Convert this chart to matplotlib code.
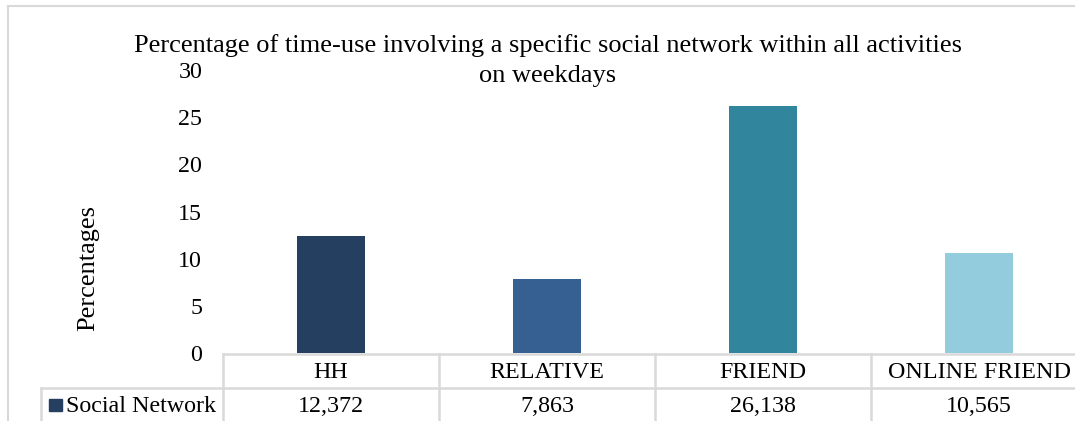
import matplotlib.pyplot as plt
from matplotlib.patches import Rectangle
from matplotlib.transforms import blended_transform_factory

categories = ['HH', 'RELATIVE', 'FRIEND', 'ONLINE FRIEND']
shares = [12.372, 7.863, 26.138, 10.565]
series_name = 'Social Network'
bar_colors = ['#243F60', '#366092', '#31859C', '#93CDDD']
yticks = [0, 5, 10, 15, 20, 25, 30]

W, H = 1075, 421
plt.rcParams['font.family'] = 'Liberation Serif'
fs = 17.3
fs_title = 19
grid_c = '#D9D9D9'

fig = plt.figure(figsize=(W / 100, H / 100), dpi=100)

# outer chart frame (top and left edges only are inside the canvas)
fig.add_artist(plt.Line2D([8 / W, 1.1], [1 - 6 / H, 1 - 6 / H], color=grid_c, lw=1.5))
fig.add_artist(plt.Line2D([8 / W, 8 / W], [1 - 6 / H, -0.1], color=grid_c, lw=1.5))

ax = fig.add_axes([223 / W, (H - 353) / H, 864 / W, 283 / H])
x = range(len(categories))
ax.bar(x, shares, width=0.315, color=bar_colors)
ax.set_xlim(-0.5, 3.5)
ax.set_ylim(0, 30)
ax.set_yticks(yticks)
ax.set_yticklabels([str(t) for t in yticks], fontsize=fs)
ax.tick_params(axis='y', length=0, pad=15)
ax.set_xticks([])
for s in ax.spines.values():
    s.set_visible(False)

fig.text(88 / W, 1 - 268 / H, 'Percentages', rotation=90, ha='center', va='center', fontsize=fs_title)
fig.text(548 / W, 1 - 46 / H, 'Percentage of time-use involving a specific social network within all activities',
         ha='center', va='center', fontsize=fs_title)
fig.text(548 / W, 1 - 76 / H, 'on weekdays', ha='center', va='center', fontsize=fs_title)

# data table under the bars
tr = blended_transform_factory(ax.transData, fig.transFigure)
y_top = 1 - 354 / H
y_mid = 1 - 388 / H
y_bot = -0.05
ax.plot([-0.5, 3.5], [y_top, y_top], transform=tr, color=grid_c, lw=1.8, clip_on=False)
ax.plot([-0.5, 3.5], [y_mid, y_mid], transform=tr, color=grid_c, lw=1.8, clip_on=False)
for b in [-0.5, 0.5, 1.5, 2.5, 3.5]:
    ax.plot([b, b], [y_top, y_bot], transform=tr, color=grid_c, lw=1.8, clip_on=False)
for i, (c, v) in enumerate(zip(categories, shares)):
    ax.text(i, 1 - 372 / H, c, transform=tr, ha='center', va='center', fontsize=fs)
    ax.text(i, 1 - 406 / H, f'{v:.3f}'.replace('.', ','), transform=tr,
            ha='center', va='center', fontsize=fs)

# legend cell of the table
x_leg = 41 / W
x_ax = 223 / W
fig.add_artist(plt.Line2D([x_leg, x_ax], [y_mid, y_mid], color=grid_c, lw=1.8))
fig.add_artist(plt.Line2D([x_leg, x_leg], [y_mid, y_bot], color=grid_c, lw=1.8))
fig.patches.append(Rectangle((49 / W, 1 - 411 / H), 13 / W, 12 / H, transform=fig.transFigure,
                             color=bar_colors[0]))
fig.text(66 / W, 1 - 406 / H, series_name, ha='left', va='center', fontsize=fs)

fig.savefig('out.png', dpi=100)
